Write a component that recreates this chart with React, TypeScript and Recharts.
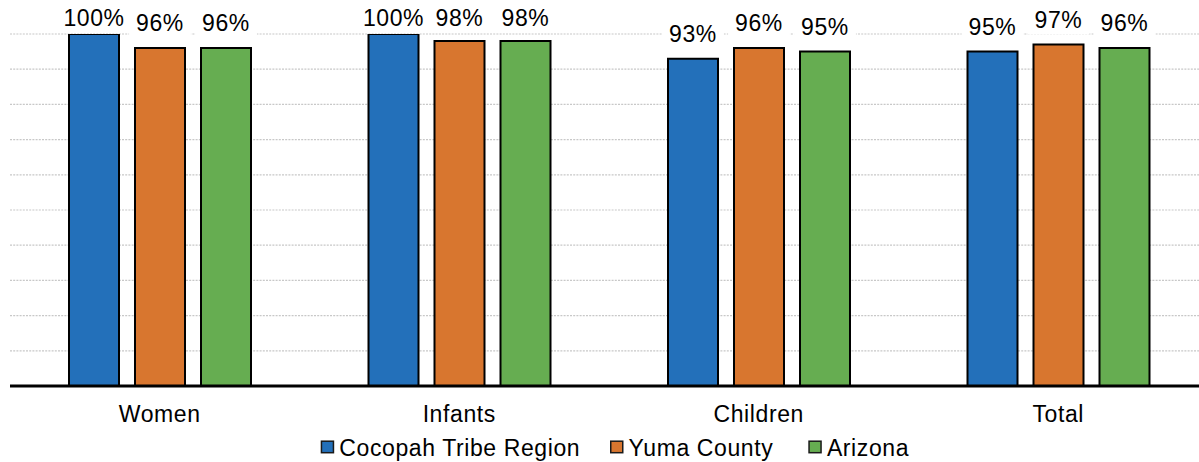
import React from 'react';
import { BarChart, Bar, XAxis, YAxis, CartesianGrid, LabelList, Legend } from 'recharts';

// Share of each group, by region
const CATEGORIES = ['Women', 'Infants', 'Children', 'Total'];
const COCOPAH = [1.0, 1.0, 0.93, 0.95];
const YUMA = [0.96, 0.98, 0.96, 0.97];
const ARIZONA = [0.96, 0.98, 0.95, 0.96];
const SERIES_NAMES = ['Cocopah Tribe Region', 'Yuma County', 'Arizona'];
const Y_TICKS = [0, 0.1, 0.2, 0.3, 0.4, 0.5, 0.6, 0.7, 0.8, 0.9, 1.0];

const COLORS = ['#2370BA', '#D8762F', '#66AD51'];
const SERIES_KEYS = ['cocopah', 'yuma', 'arizona'];
const FONT = '"Liberation Sans", Arial, sans-serif';
const FONT_SIZE = 23;
const LETTER_SPACING = 0.6;

const data = CATEGORIES.map((name, i) => ({
  name,
  cocopah: COCOPAH[i],
  yuma: YUMA[i],
  arizona: ARIZONA[i],
}));

const pct = (v: number) => `${Math.round(v * 100)}%`;

// rough Arial advance widths, used to size the white backing box of a label
const textWidth = (s: string) => {
  let w = 0;
  for (const ch of s) {
    w += ch === '%' ? 0.889 : 0.556;
  }
  return w * FONT_SIZE + LETTER_SPACING * s.length;
};

const ValueLabel = (props: any) => {
  const { x, y, width, value } = props;
  const cx = x + width / 2;
  const baseline = Math.max(y - 17, 26);
  const text = pct(value);
  const w = textWidth(text) + 14;
  return (
    <g>
      <rect x={cx - w / 2} y={baseline - 20} width={w} height={27} fill="#ffffff" />
      <text
        x={cx}
        y={baseline}
        textAnchor="middle"
        fontFamily={FONT}
        fontSize={FONT_SIZE}
        letterSpacing={LETTER_SPACING}
        fill="#000"
      >
        {text}
      </text>
    </g>
  );
};

const CategoryTick = (props: any) => {
  const { x, y, payload } = props;
  return (
    <text
      x={x}
      y={y + 35.5}
      textAnchor="middle"
      fontFamily={FONT}
      fontSize={FONT_SIZE}
      letterSpacing={LETTER_SPACING}
      fill="#000"
    >
      {payload.value}
    </text>
  );
};

const LEGEND_LEFT = [320.7, 610, 808.3];

const LegendContent = () => (
  <svg width={1199} height={36} style={{ display: 'block' }}>
    {SERIES_NAMES.map((name, i) => (
      <g key={name}>
        <rect
          x={LEGEND_LEFT[i] + 0.75}
          y={15.2}
          width={12}
          height={11.5}
          fill={COLORS[i]}
          stroke="#1a1a1a"
          strokeWidth={1.5}
        />
        <text
          x={LEGEND_LEFT[i] + 18.6}
          y={30}
          fontFamily={FONT}
          fontSize={FONT_SIZE}
          letterSpacing={LETTER_SPACING}
          fill="#000"
        >
          {name}
        </text>
      </g>
    ))}
  </svg>
);

export default function App() {
  return (
    <div
      style={{
        position: 'absolute',
        left: 0,
        top: 0,
        width: 1199,
        height: 462,
        overflow: 'hidden',
        background: '#fff',
      }}
    >
      <BarChart
        width={1220}
        height={462}
        data={data}
        margin={{ top: 34, right: 12, bottom: 0, left: 10 }}
        barGap={16}
        barSize={50}
      >
        <CartesianGrid
          vertical={false}
          stroke="#c8c8c8"
          strokeWidth={1.2}
          strokeDasharray="2 1.2"
        />
        <YAxis hide domain={[0, 1]} ticks={Y_TICKS} allowDataOverflow />
        <XAxis
          dataKey="name"
          height={40}
          axisLine={{ stroke: '#000', strokeWidth: 3 }}
          tickLine={false}
          tickSize={0}
          tickMargin={0}
          tick={<CategoryTick />}
          interval={0}
        />
        <Legend
          verticalAlign="bottom"
          content={<LegendContent />}
          wrapperStyle={{ left: 0, top: 426, width: 1199, height: 36 }}
        />
        {SERIES_KEYS.map((key, i) => (
          <Bar
            key={key}
            dataKey={key}
            name={SERIES_NAMES[i]}
            fill={COLORS[i]}
            stroke="#000"
            strokeWidth={2}
            isAnimationActive={false}
          >
            <LabelList dataKey={key} content={<ValueLabel />} />
          </Bar>
        ))}
      </BarChart>
    </div>
  );
}
